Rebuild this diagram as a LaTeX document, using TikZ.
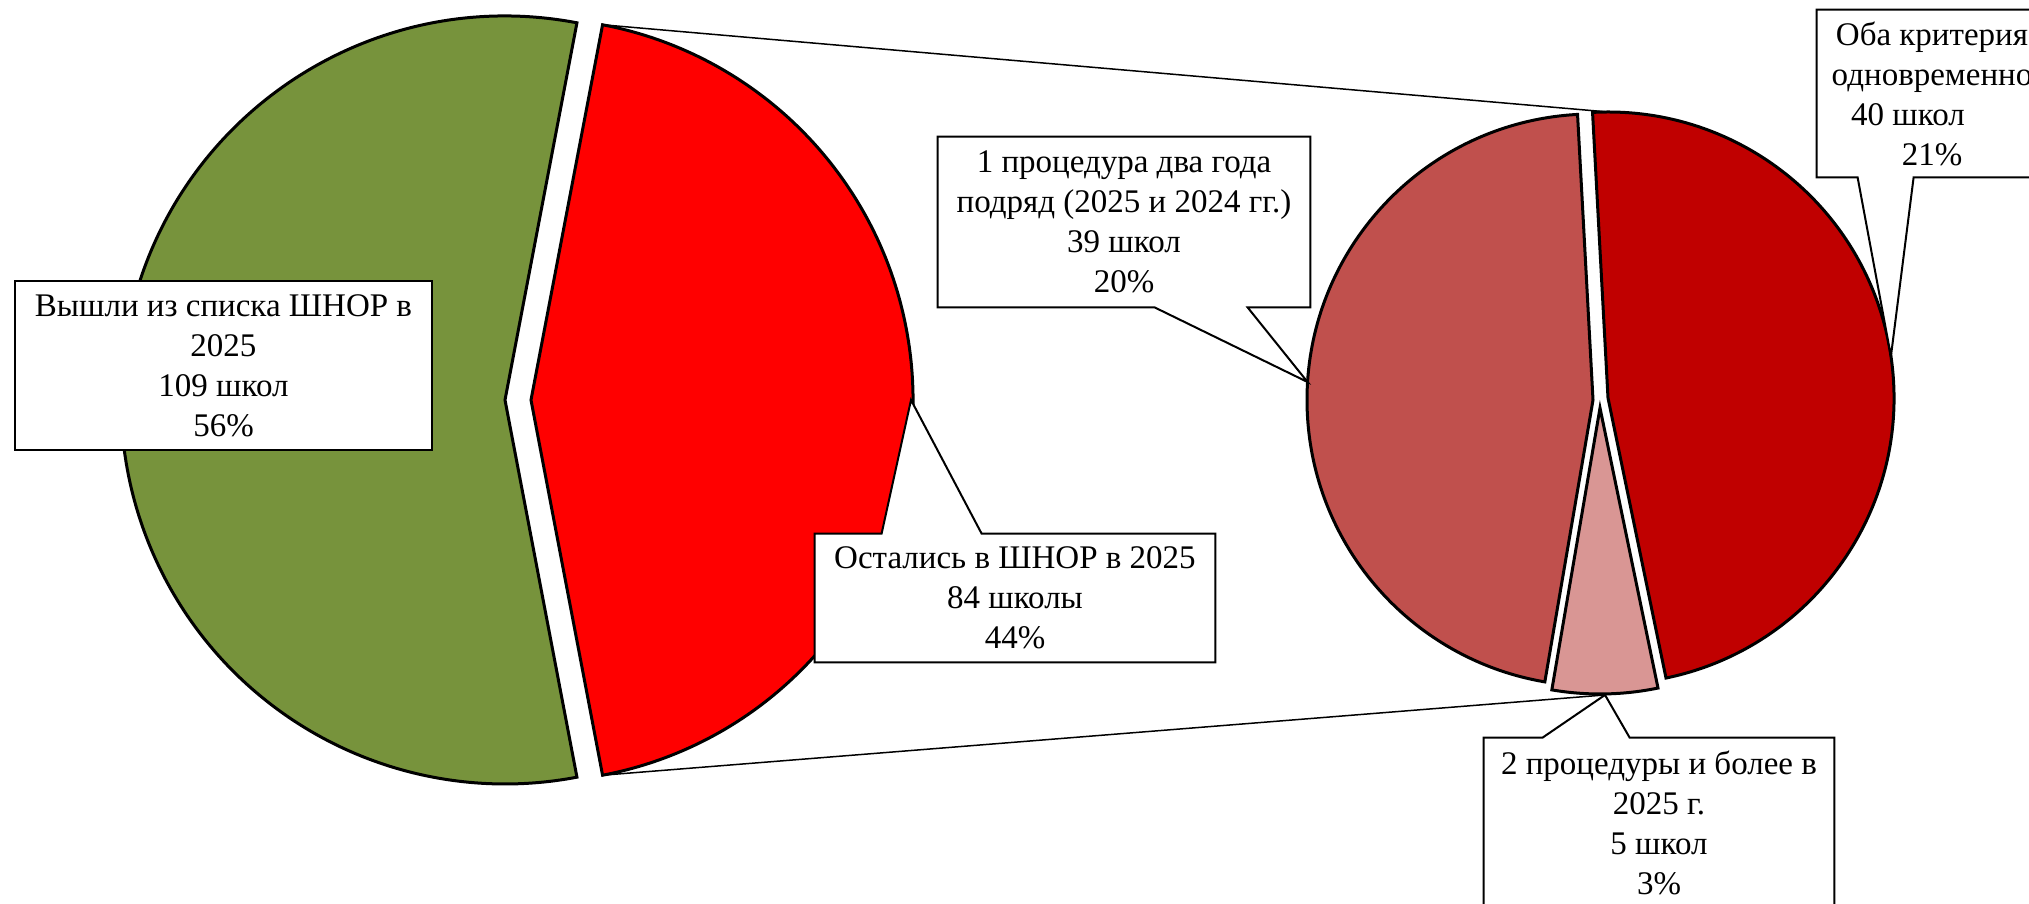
\documentclass[tikz,border=0pt]{standalone}
\usepackage{fontspec}
\setmainfont{Liberation Serif}
\usetikzlibrary{calc}

\definecolor{pieGreen}{HTML}{77933C}
\definecolor{pieRed}{HTML}{FF0000}
\definecolor{pieDark}{HTML}{C00000}
\definecolor{pieBrown}{HTML}{C0504D}
\definecolor{piePink}{HTML}{D99694}

\pgfdeclarelayer{front}
\pgfsetlayers{main,front}

\begin{document}
\begin{tikzpicture}[x=0.5pt,y=0.5pt,
    slice/.style={draw=black,line width=1.5pt,line join=miter},
    lead/.style={draw=black,line width=0.75pt},
    box/.style={draw=black,fill=white,line width=1pt,line join=miter},
    lbl/.style={align=center,inner sep=0pt,font=\fontsize{16.5}{20}\selectfont}]
  \useasboundingbox (0,0) rectangle (2029,904);
  \clip (0,0) rectangle (2029,904);

  % slices: name / apex x / apex y / start / end / radius / colour
  \foreach \n/\px/\py/\a/\b/\r/\c in {
      green/505/504/79.2/280.8/384/pieGreen,
      red/531/504/-79.2/79.2/382/pieRed,
      brown/1593/504/93.1/260.3/286/pieBrown,
      dark/1608/506/-78.3/93.1/286/pieDark,
      pink/1600/496/-99.7/-78.3/286/piePink} {
    \coordinate (\n) at (\px,\py);
    \filldraw[slice,fill=\c] (\n) -- ++(\a:\r) arc[start angle=\a,end angle=\b,radius=\r] -- cycle;
  }

  \coordinate (redtop) at ([shift={(79.2:382)}]red);
  \coordinate (redbot) at ([shift={(-79.2:382)}]red);
  \coordinate (darktop) at ([shift={(90:286)}]dark);
  \coordinate (pinkbot) at ([shift={(-89:287)}]pink);
  \coordinate (redtip) at ([shift={(0:380)}]red);
  \coordinate (browntip) at ([shift={(176.4:286)}]brown);
  \coordinate (darktip) at ([shift={(8.4:286)}]dark);

  \draw[lead] (redtop) -- (darktop);
  \draw[lead] (redbot) -- (pinkbot);

  \begin{pgfonlayer}{front}
    \node[lbl,box,minimum width=208.5pt,minimum height=84.5pt] (out) at (223.5,538.5)
      {Вышли из списка ШНОР в\\2025\\109 школ\\56\%};
    \node[lbl,minimum width=200pt,minimum height=64pt] (stay) at (1015,306)
      {Остались в ШНОР в 2025\\84 школы\\44\%};
    \node[lbl,minimum width=186pt,minimum height=85pt] (proc1) at (1124,682)
      {1 процедура два года\\подряд (2025 и 2024 гг.)\\39 школ\\20\%};
    \node[lbl,minimum width=175pt,minimum height=85pt] (proc2) at (1659,81)
      {2 процедуры и более в\\2025 г.\\5 школ\\3\%};
    \node[lbl,minimum width=115pt,minimum height=83.5pt] (both) at (1932,810.5)
      {Оба критерия\\одновременно\\40 школ\hspace{24pt}\null\\21\%};
  \end{pgfonlayer}

  % callouts
  \filldraw[box] (stay.south west) -- (stay.north west) -- ($(stay.north west)+(67,0)$)
    -- (redtip) -- ($(stay.north west)+(167,0)$) -- (stay.north east) -- (stay.south east) -- cycle;
  \filldraw[box] (proc1.north west) -- (proc1.north east) -- (proc1.south east)
    -- ($(proc1.south west)+(310,0)$) -- (browntip) -- ($(proc1.south west)+(217,0)$) -- (proc1.south west) -- cycle;
  \filldraw[box] (proc2.south west) -- (proc2.north west) -- ($(proc2.north west)+(59,0)$)
    -- (pinkbot) -- ($(proc2.north west)+(146,0)$) -- (proc2.north east) -- (proc2.south east) -- cycle;
  \filldraw[box] (both.north west) -- (both.south west) -- ($(both.south west)+(41,0)$)
    -- (darktip) -- ($(both.south west)+(97,0)$) -- (both.south east) -- (both.north east) -- cycle;
\end{tikzpicture}
\end{document}
